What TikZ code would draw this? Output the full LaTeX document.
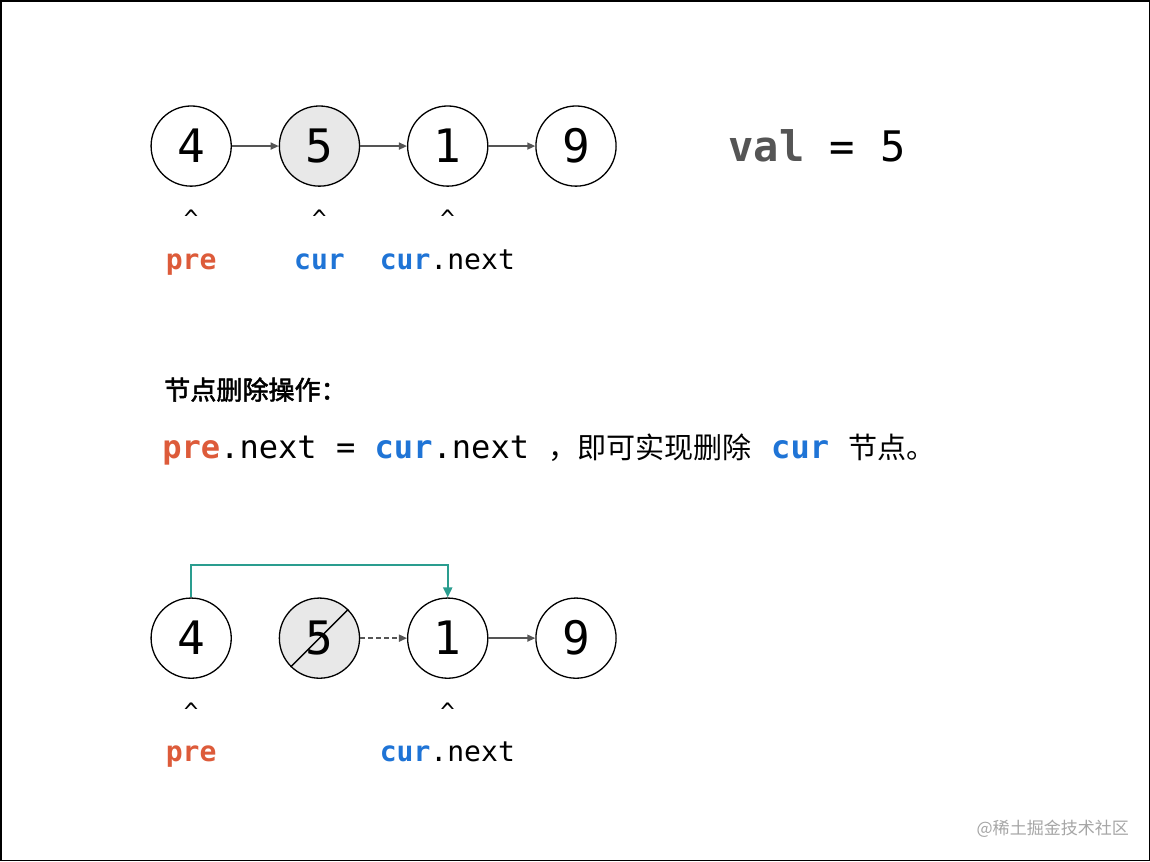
\documentclass[tikz,border=0pt]{standalone}
\usepackage{fontspec}
\setmonofont{DejaVu Sans Mono}
\newfontfamily\cjk{Noto Sans CJK SC}
\newfontfamily\cjkb[FakeBold=2]{Noto Sans CJK SC}
\usetikzlibrary{arrows.meta}
\definecolor{pre}{HTML}{DD5B3A}
\definecolor{cur}{HTML}{1F74D6}
\definecolor{tea}{HTML}{2A9D8F}
\definecolor{ar}{HTML}{555555}
\begin{document}
\begin{tikzpicture}[x=1pt,y=-1pt,
 ln/.style={circle,draw,line width=1.3pt,minimum size=80pt,inner sep=0pt,font=\fontsize{46}{46}\ttfamily},
 gr/.style={fill={rgb,255:red,232;green,232;blue,232}},
 lk/.style={draw=ar,line width=1.5pt,-{Triangle[length=8pt,width=7pt]}},
 lab/.style={font=\fontsize{28}{28}\ttfamily\bfseries,inner sep=0pt,anchor=base},
 car/.style={font=\fontsize{24}{24}\ttfamily,inner sep=0pt}]
\draw[line width=1.5pt,fill=white] (2,2) rectangle (1148,860);
\node[ln] (a1) at (192,147) {4};
\node[ln,gr] (a2) at (320,147) {5};
\node[ln] (a3) at (448,147) {1};
\node[ln] (a4) at (576,147) {9};
\draw[lk] (a1)--(a2); \draw[lk] (a2)--(a3); \draw[lk] (a3)--(a4);
\node[anchor=west,inner sep=0pt,font=\fontsize{42}{42}\ttfamily] (val) at (728,147) {\textcolor{ar}{\bfseries val} = 5};
\node[car] (c1) at (192,220) {\^{}};
\node[car] (c2) at (320,220) {\^{}};
\node[car] (c3) at (448,220) {\^{}};
\node[lab,text=pre] (l1) at (192,270) {pre};
\node[lab,text=cur] (l2) at (320,270) {cur};
\node[lab,anchor=base west] (l3) at (380,270) {\textcolor{cur}{cur}\mdseries.next};
\node[anchor=west,inner sep=0pt,font=\fontsize{26}{26}\cjkb] (t1) at (165,390) {节点删除操作：};
\node[anchor=west,inner sep=0pt,font=\fontsize{32}{32}\ttfamily] (t2) at (163,450) {\textcolor{pre}{\bfseries pre}.next = \textcolor{cur}{\bfseries cur}.next {\cjk\fontsize{29}{29}\selectfont，即可实现删除} \textcolor{cur}{\bfseries cur} {\cjk\fontsize{29}{29}\selectfont 节点。}};
\node[ln] (b1) at (192,638) {4};
\node[ln,gr] (b2) at (320,638) {5};
\node[ln] (b3) at (448,638) {1};
\node[ln] (b4) at (576,638) {9};
\draw[line width=1.5pt] (b2.225)--(b2.45);
\draw[lk,dash pattern=on 5pt off 3pt] (b2)--(b3); \draw[lk] (b3)--(b4);
\draw[draw=tea,line width=2pt,-{Triangle[length=10pt,width=9pt]}] (b1.north)--(192,565)--(448,565)--(b3.north);
\node[car] (d1) at (192,711) {\^{}};
\node[car] (d3) at (448,711) {\^{}};
\node[lab,text=pre] (m1) at (192,761) {pre};
\node[lab,anchor=base west] (m3) at (380,761) {\textcolor{cur}{cur}\mdseries.next};
\node[anchor=east,inner sep=0pt,text=gray!70,font=\fontsize{17}{17}\cjk] (wm) at (1128,828) {@稀土掘金技术社区};
\end{tikzpicture}
\end{document}
